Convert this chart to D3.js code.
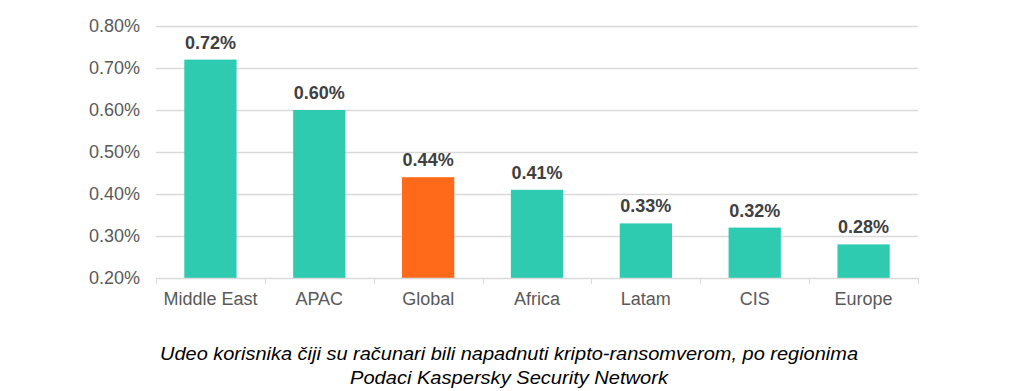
<!DOCTYPE html>
<html>
<head>
<meta charset="utf-8">
<script src="https://cdn.jsdelivr.net/npm/d3@7"></script>
<style>
  body { margin: 0; background: #fff; }
  svg text { font-family: "Liberation Sans", Arial, sans-serif; }
</style>
</head>
<body>
<div class="chart"></div>
<script>
var regions = ['Middle East', 'APAC', 'Global', 'Africa', 'Latam', 'CIS', 'Europe'];
var shares = [0.72, 0.60, 0.44, 0.41, 0.33, 0.32, 0.28];
var yTicks = [0.20, 0.30, 0.40, 0.50, 0.60, 0.70, 0.80];
var caption = [
  'Udeo korisnika čiji su računari bili napadnuti kripto-ransomverom, po regionima',
  'Podaci Kaspersky Security Network'
];

var data = regions.map((r, i) => ({name: r, value: shares[i]}));

const W = 1029, H = 391;
const margin = { top: 26, right: 111, bottom: 113, left: 156 };
const width = W - margin.left - margin.right;
const height = H - margin.top - margin.bottom;

var root = d3.select('.chart')
  .append('svg')
    .attr('width', W)
    .attr('height', H);

var svg = root.append('g')
    .attr('transform', `translate(${margin.left}, ${margin.top})`);

var xScale = d3.scaleBand()
  .domain(regions)
  .range([0, width])
  .paddingInner(0.52)
  .paddingOuter(0.26);

var yScale = d3.scaleLinear()
  .domain([0.20, 0.80])
  .range([height, 0]);

// gridlines
svg.append('g')
  .selectAll('line')
  .data(yTicks.slice(1))
  .join('line')
    .attr('x1', 0)
    .attr('x2', width)
    .attr('y1', d => Math.round(yScale(d)) + 0.5)
    .attr('y2', d => Math.round(yScale(d)) + 0.5)
    .attr('stroke', '#d9d9d9')
    .attr('stroke-width', 1.5);

// y axis labels
var yAxis = svg.append('g')
  .call(d3.axisLeft(yScale).tickValues(yTicks).tickSize(0).tickPadding(16)
    .tickFormat(d => d.toFixed(2) + '%'));
yAxis.select('.domain').remove();
yAxis.selectAll('text')
  .attr('fill', '#595959')
  .style('font-size', '18px');

// bars
svg.selectAll('rect.bar')
  .data(data)
  .join('rect')
    .attr('class', 'bar')
    .attr('x', d => xScale(d.name))
    .attr('width', xScale.bandwidth())
    .attr('y', d => yScale(d.value))
    .attr('height', d => height - yScale(d.value))
    .attr('fill', d => d.name === 'Global' ? '#ff6a1a' : '#2ecbb1');

// value labels
svg.selectAll('text.val')
  .data(data)
  .join('text')
    .attr('class', 'val')
    .attr('x', d => xScale(d.name) + xScale.bandwidth() / 2)
    .attr('y', d => yScale(d.value) - 11)
    .attr('text-anchor', 'middle')
    .attr('fill', '#404040')
    .style('font-size', '18px')
    .style('font-weight', 'bold')
    .text(d => d.value.toFixed(2) + '%');

// x axis
var step = xScale.step();
var x0 = xScale(regions[0]) - step * xScale.paddingOuter();
var bounds = d3.range(regions.length + 1).map(i => x0 + i * step);

var xAxis = svg.append('g')
  .attr('transform', `translate(0, ${height})`);
xAxis.append('line')
  .attr('x1', 0).attr('x2', width)
  .attr('y1', 0.5).attr('y2', 0.5)
  .attr('stroke', '#d9d9d9')
  .attr('stroke-width', 1.5);
xAxis.selectAll('line.tick')
  .data(bounds)
  .join('line')
    .attr('class', 'tick')
    .attr('x1', d => Math.round(d) + 0.5)
    .attr('x2', d => Math.round(d) + 0.5)
    .attr('y1', 0).attr('y2', 6)
    .attr('stroke', '#d9d9d9');
xAxis.selectAll('text')
  .data(regions)
  .join('text')
    .attr('x', d => xScale(d) + xScale.bandwidth() / 2)
    .attr('y', 27)
    .attr('text-anchor', 'middle')
    .attr('fill', '#595959')
    .style('font-size', '18px')
    .text(d => d);

// caption
var capWidths = [698, 318];
root.append('g')
  .selectAll('text')
  .data(caption)
  .join('text')
    .attr('x', 509)
    .attr('y', (d, i) => 360 + i * 24)
    .attr('text-anchor', 'middle')
    .attr('fill', '#000')
    .attr('textLength', (d, i) => capWidths[i])
    .attr('lengthAdjust', 'spacingAndGlyphs')
    .style('font-size', '18px')
    .style('font-style', 'italic')
    .text(d => d);
</script>
</body>
</html>
